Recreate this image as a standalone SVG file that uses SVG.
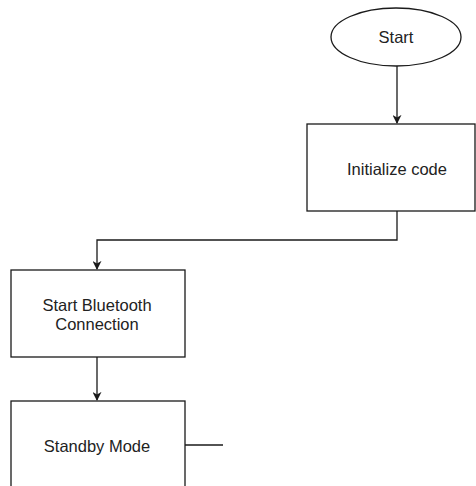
<svg xmlns="http://www.w3.org/2000/svg" width="476" height="486" viewBox="0 0 476 486">
<style>
.shape{fill:#fff;stroke:#1a1a1a;stroke-width:1.3}
.lbl{font-family:"Liberation Sans",Arial,sans-serif;font-size:16.5px;fill:#222;text-anchor:middle}
.conn{fill:none;stroke:#1a1a1a;stroke-width:1.3}
</style>
<defs>
<marker id="arr" viewBox="0 0 10 10" refX="9" refY="5" markerWidth="9" markerHeight="9" markerUnits="userSpaceOnUse" orient="auto">
<path d="M0,0 L10,5 L0,10 L3,5 z" fill="#1a1a1a"/>
</marker>
</defs>
<rect width="476" height="486" fill="#fff"/>
<g id="connectors">
<path class="conn" d="M397,66 L397,123" marker-end="url(#arr)"/>
<path class="conn" d="M397,211 L397,240 L97,240 L97,269" marker-end="url(#arr)"/>
<path class="conn" d="M97,357 L97,400" marker-end="url(#arr)"/>
<path class="conn" d="M185,445 L223,445"/>
</g>
<g id="start">
<ellipse class="shape" cx="396" cy="37" rx="65" ry="29"/>
<text class="lbl" x="396" y="43">Start</text>
</g>
<g id="init">
<rect class="shape" x="307" y="124" width="168" height="87"/>
<text class="lbl" x="397" y="175">Initialize code</text>
</g>
<g id="bluetooth">
<rect class="shape" x="11" y="270" width="174" height="87"/>
<text class="lbl" x="97" y="311">Start Bluetooth</text>
<text class="lbl" x="97" y="330">Connection</text>
</g>
<g id="standby">
<rect class="shape" x="11" y="401" width="174" height="100"/>
<text class="lbl" x="97" y="452">Standby Mode</text>
</g>
</svg>
